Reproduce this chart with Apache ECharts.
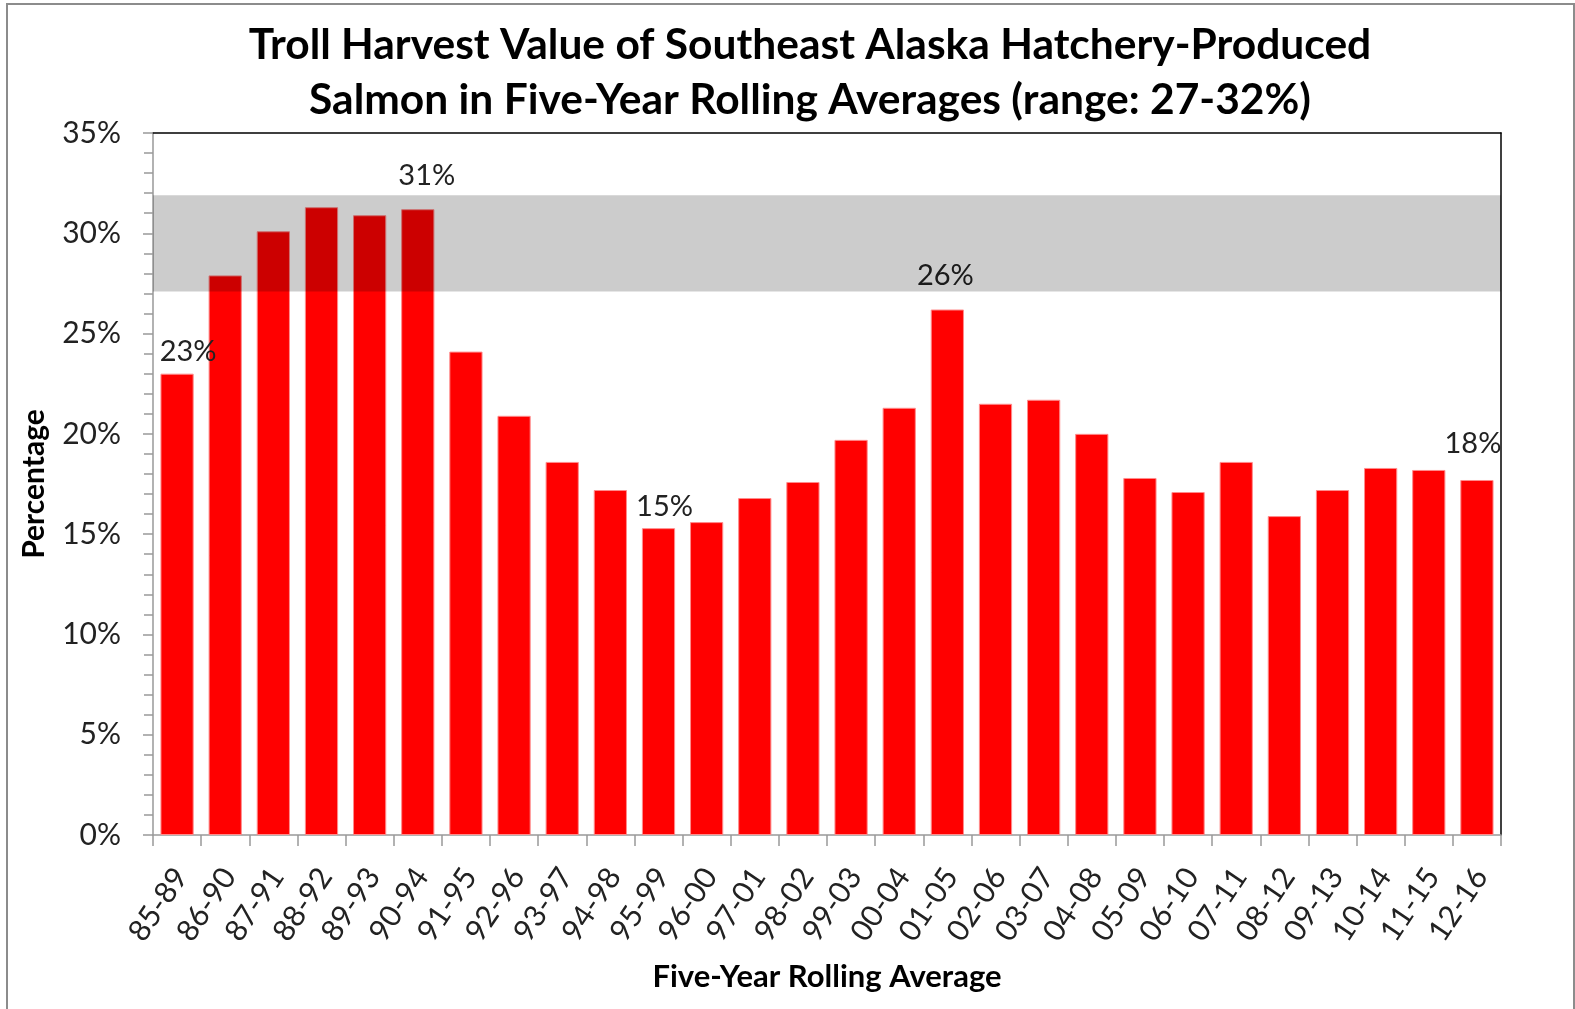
<!DOCTYPE html>
<html>
<head>
<meta charset="utf-8">
<title>Troll Harvest Value</title>
<script src="https://cdn.jsdelivr.net/npm/echarts@6/dist/echarts.min.js"></script>
<style>
    html, body { margin: 0; padding: 0; background: #fff; }
    #chart { width: 1575px; height: 1009px; }
</style>
</head>
<body>
<div id="chart"></div>
<script>
// five-year windows
var periods = ["85-89", "86-90", "87-91", "88-92", "89-93", "90-94", "91-95", "92-96", "93-97", "94-98",
    "95-99", "96-00", "97-01", "98-02", "99-03", "00-04", "01-05", "02-06", "03-07", "04-08",
    "05-09", "06-10", "07-11", "08-12", "09-13", "10-14", "11-15", "12-16"];
// hatchery share of troll harvest value, %
var percentages = [23.0, 27.9, 30.1, 31.3, 30.9, 31.2, 24.1, 20.9, 18.6, 17.2,
    15.3, 15.6, 16.8, 17.6, 19.7, 21.3, 26.2, 21.5, 21.7, 20.0,
    17.8, 17.1, 18.6, 15.9, 17.2, 18.3, 18.2, 17.7];
// bars carrying a value label
var labeledPeriods = ["85-89", "90-94", "95-99", "01-05", "12-16"];
// shaded range band, %
var rangeBand = [27.1, 31.9];
var yTicks = [0, 35, 5];

var titleText = "Troll Harvest Value of Southeast Alaska Hatchery-Produced\nSalmon in Five-Year Rolling Averages (range: 27-32%)";
var yTitle = "Percentage";
var xTitle = "Five-Year Rolling Average";

// label nudges (style only)
var labelNudge = {
    "85-89": { distance: 8, offset: [11, 0] },
    "90-94": { distance: 19, offset: [9, 0] },
    "95-99": { distance: 7, offset: [6, 0] },
    "01-05": { distance: 19, offset: [-2, 0] },
    "12-16": { distance: 22, offset: [-4, 0] }
};

var FONT = "Lato";
var barData = percentages.map(function (v, i) {
    var p = periods[i];
    if (labeledPeriods.indexOf(p) < 0) return v;
    return {
        value: v,
        label: {
            show: true,
            position: "top",
            distance: labelNudge[p].distance,
            offset: labelNudge[p].offset,
            formatter: Math.round(v) + "%",
            fontFamily: FONT,
            fontSize: 29,
            color: "#222"
        }
    };
});

var chart = echarts.init(document.getElementById("chart"));
chart.setOption({
    animation: false,
    backgroundColor: "#fff",
    graphic: [{
        type: "rect",
        shape: { x: 7, y: 4, width: 1567, height: 1012 },
        style: { fill: "none", stroke: "#8c8c8c", lineWidth: 2 }
    }, {
        type: "text",
        x: 810,
        y: 18,
        style: {
            text: titleText,
            align: "center",
            font: "bold 42.5px " + FONT,
            lineHeight: 55,
            fill: "#000"
        }
    }],
    grid: {
        left: 153,
        right: 74,
        top: 133,
        bottom: 174
    },
    xAxis: [{
        type: "category",
        data: periods,
        name: xTitle,
        nameLocation: "middle",
        nameGap: 126,
        nameTextStyle: { fontFamily: FONT, fontWeight: "bold", fontSize: 31, color: "#000" },
        axisLine: { lineStyle: { color: "#999", width: 1.5 } },
        axisTick: { show: true, length: 11, lineStyle: { color: "#999", width: 1.5 } },
        axisLabel: {
            rotate: 56, margin: 42, interval: 0, padding: [0, -7, 0, 0],
            fontFamily: FONT, fontSize: 30, color: "#222"
        }
    }, {
        type: "category",
        data: periods,
        position: "top",
        axisLine: { onZero: false, lineStyle: { color: "#000", width: 1.5 } },
        axisTick: { show: false },
        axisLabel: { show: false }
    }],
    yAxis: [{
        type: "value",
        min: yTicks[0],
        max: yTicks[1],
        interval: yTicks[2],
        name: yTitle,
        nameLocation: "middle",
        nameGap: 104,
        nameTextStyle: { fontFamily: FONT, fontWeight: "bold", fontSize: 30, color: "#000" },
        axisLine: { show: true, lineStyle: { color: "#999", width: 1.5 } },
        axisTick: { show: true, length: 10, lineStyle: { color: "#999", width: 1.5 } },
        minorTick: { show: true, splitNumber: 5, length: 9, lineStyle: { color: "#999", width: 1.5 } },
        splitLine: { show: false },
        axisLabel: { formatter: "{value}%", margin: 32, fontFamily: FONT, fontSize: 30, color: "#222" }
    }, {
        type: "value",
        position: "right",
        min: yTicks[0],
        max: yTicks[1],
        axisLine: { show: true, onZero: false, lineStyle: { color: "#000", width: 1.5 } },
        axisTick: { show: false },
        axisLabel: { show: false },
        splitLine: { show: false }
    }],
    series: [{
        type: "bar",
        data: barData,
        barCategoryGap: "31%",
        itemStyle: { color: "#ff0000", borderColor: "#ff8c8c", borderWidth: 1 },
        markArea: {
            z: 10,
            silent: true,
            itemStyle: { color: "rgba(0,0,0,0.2)" },
            data: [[{ yAxis: rangeBand[0] }, { yAxis: rangeBand[1] }]]
        }
    }]
});
</script>
</body>
</html>
